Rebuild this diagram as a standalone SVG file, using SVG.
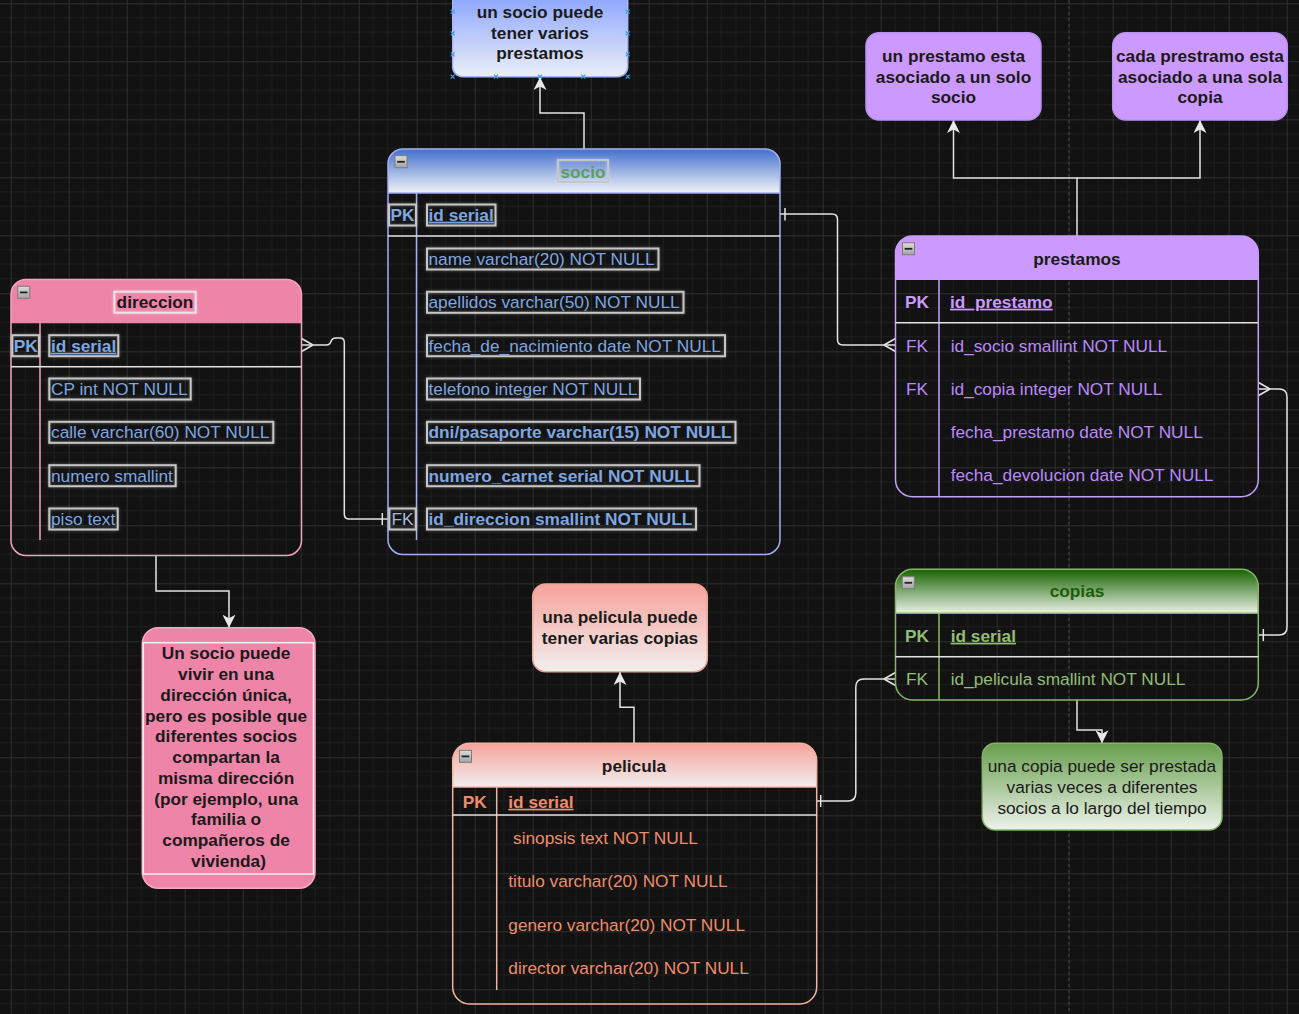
<svg xmlns="http://www.w3.org/2000/svg" width="1299" height="1014" viewBox="0 0 1299 1014">
<defs>
<style>
.t{font-family:'Liberation Sans',Arial,sans-serif;font-size:17.28px}
.b{font-weight:bold}
.u{text-decoration:underline}
.m{text-anchor:middle}
.lb{fill:none;stroke:#c6c6c6;stroke-width:2;filter:url(#glow)}
.conn{fill:none;stroke:#e4e4e4;stroke-width:1.5}
.sep{stroke:#e2e2e2;stroke-width:1.5}
.blue{fill:#7ea6e0}
.purp{fill:#b98af8}
.grn{fill:#92bd76}
.sal{fill:#ef8c6c}
.h{fill:#2196f3;font-size:0}
</style>
<pattern id="grid" x="10.7" y="3.3" width="58" height="58" patternUnits="userSpaceOnUse">
<path d="M14.5,0V58M29,0V58M43.5,0V58M0,14.5H58M0,29H58M0,43.5H58" stroke="#1f1f1f" stroke-width="1" fill="none"/>
<path d="M0.5,0V58M0,0.5H58" stroke="#2e2e2e" stroke-width="1" fill="none"/>
</pattern>
<filter id="glow" x="-20%" y="-40%" width="140%" height="180%">
<feDropShadow dx="0" dy="0" stdDeviation="1.6" flood-color="#ffffff" flood-opacity="0.35"/>
</filter>
<linearGradient id="gBlue" x1="0" y1="0" x2="0" y2="1"><stop offset="0" stop-color="#4270cc"/><stop offset="1" stop-color="#f2f3f9"/></linearGradient>
<linearGradient id="gNote1" x1="0" y1="0" x2="0" y2="1"><stop offset="0" stop-color="#85a0ff"/><stop offset="1" stop-color="#eceef7"/></linearGradient>
<linearGradient id="gSal" x1="0" y1="0" x2="0" y2="1"><stop offset="0" stop-color="#f6a39b"/><stop offset="1" stop-color="#f1eeee"/></linearGradient>
<linearGradient id="gGrn" x1="0" y1="0" x2="0" y2="1"><stop offset="0" stop-color="#176400"/><stop offset="1" stop-color="#eaf0e6"/></linearGradient>
<linearGradient id="gGrn2" x1="0" y1="0" x2="0" y2="1"><stop offset="0" stop-color="#679e4c"/><stop offset="1" stop-color="#eef2ec"/></linearGradient>
<linearGradient id="gIco" x1="0" y1="0" x2="0" y2="1"><stop offset="0" stop-color="#dcdcdc"/><stop offset="1" stop-color="#a4a4a4"/></linearGradient>
<g id="ico"><rect x="0" y="0" width="12" height="12" fill="url(#gIco)" stroke="#7c7c7c" stroke-width="1"/><rect x="2.2" y="5.2" width="7.6" height="1.8" fill="#222"/></g>
<marker id="arr" viewBox="0 0 13 13" refX="13" refY="6.5" markerWidth="13" markerHeight="13" markerUnits="userSpaceOnUse" orient="auto">
<path d="M0,0 L13,6.5 L0,13 L3.5,6.5 Z" fill="#e8e8e8"/>
</marker>
</defs>
<rect width="1299" height="1014" fill="#121212"/>
<rect width="1299" height="1014" fill="url(#grid)"/>
<line x1="1069" y1="0" x2="1069" y2="1014" stroke="#4a4a4a" stroke-width="1" stroke-dasharray="3 3"/>

<g id="connectors">
<path class="conn" d="M584,149 V113 H540 V77" marker-end="url(#arr)"/>
<path class="conn" d="M301,345 H326 Q330,345 331,341.5 Q332,338 336,338 H340 Q344.3,338 344.3,342.5 V514 Q344.3,519 349.3,519 H388"/>
<path class="conn" d="M301.5,338.5 L313,345 M301.5,351.5 L313,345"/>
<path class="conn" d="M382.3,513 V525"/>
<path class="conn" d="M780,214 H832 Q837.5,214 837.5,219.5 V339.5 Q837.5,345 843,345 H896"/>
<path class="conn" d="M785,208 V220.5"/>
<path class="conn" d="M895.5,338.5 L884,345 M895.5,351.5 L884,345"/>
<path class="conn" d="M1077,236 V178 H953.5 V120" marker-end="url(#arr)"/>
<path class="conn" d="M1077,178 H1200 V120" marker-end="url(#arr)"/>
<path class="conn" d="M1258.5,389 H1279 Q1287,389 1287,397 V627 Q1287,635 1279,635 H1258.5"/>
<path class="conn" d="M1258.5,382.5 L1270,389 M1258.5,395.5 L1270,389"/>
<path class="conn" d="M1263.3,629 V641"/>
<path class="conn" d="M1077,700 V730 H1102 V743.3" marker-end="url(#arr)"/>
<path class="conn" d="M816.7,801 H848 Q855.8,801 855.8,793 V687 Q855.8,679 863.8,679 H895.5"/>
<path class="conn" d="M820.7,795 V807"/>
<path class="conn" d="M895.5,672.5 L884,679 M895.5,685.5 L884,679"/>
<path class="conn" d="M634,743.3 V707.3 H620 V672" marker-end="url(#arr)"/>
<path class="conn" d="M156,555.5 V591 H229 V627.7" marker-end="url(#arr)"/>
</g>

<g id="note-socio-prestamos">
<rect x="452.7" y="-10" width="175" height="86.7" rx="10" fill="url(#gNote1)" stroke="#a7b5ff" stroke-width="1.5"/>
<text class="t b m" x="540" y="17.7" fill="#1a1a1a">un socio puede</text>
<text class="t b m" x="540" y="38.5" fill="#1a1a1a">tener varios</text>
<text class="t b m" x="540" y="59.3" fill="#1a1a1a">prestamos</text>
<path d="M450.7,9.7l4,4m0,-4l-4,4M450.7,31.3l4,4m0,-4l-4,4M450.7,52.3l4,4m0,-4l-4,4M450.7,74.7l4,4m0,-4l-4,4M625.7,9.7l4,4m0,-4l-4,4M625.7,31.3l4,4m0,-4l-4,4M625.7,52.3l4,4m0,-4l-4,4M625.7,74.7l4,4m0,-4l-4,4M494,74.7l4,4m0,-4l-4,4M538,74.7l4,4m0,-4l-4,4M581.3,74.7l4,4m0,-4l-4,4" stroke="#3aa0e8" stroke-width="1.2" fill="none"/>
</g>

<g id="socio">
<path d="M388,193 V164 A15,15 0 0 1 403,149 H765 A15,15 0 0 1 780,164 V193 Z" fill="url(#gBlue)"/>
<rect x="388" y="149" width="392" height="405.5" rx="15" fill="none" stroke="#a3aef2" stroke-width="1.5"/>
<line x1="388" y1="193" x2="780" y2="193" stroke="#a3aef2" stroke-width="1.5"/>
<line x1="416.5" y1="193" x2="416.5" y2="540" stroke="#a3aef2" stroke-width="1.5"/>
<line class="sep" x1="388" y1="236" x2="780" y2="236"/>
<use href="#ico" x="395" y="155.7"/>
<rect class="lb" x="558" y="160" width="50" height="22"/>
<text class="t b m" x="583" y="177.7" fill="#5c9e5c">socio</text>
<rect class="lb" x="389" y="204.5" width="27" height="21"/>
<text class="t b m blue" x="402.5" y="220.7">PK</text>
<rect class="lb" x="427" y="204.5" width="68.5" height="21"/>
<text class="t b u blue" x="428.5" y="220.7">id serial</text>
<rect class="lb" x="427" y="248.5" width="231.5" height="21"/>
<text class="t blue" x="428.5" y="265">name varchar(20) NOT NULL</text>
<rect class="lb" x="427" y="291.8" width="256.5" height="21"/>
<text class="t blue" x="428.5" y="308.3">apellidos varchar(50) NOT NULL</text>
<rect class="lb" x="427" y="335.2" width="298" height="21"/>
<text class="t blue" x="428.5" y="351.7">fecha_de_nacimiento date NOT NULL</text>
<rect class="lb" x="427" y="378.5" width="213" height="21"/>
<text class="t blue" x="428.5" y="395">telefono integer NOT NULL</text>
<rect class="lb" x="427" y="421.8" width="308.5" height="21"/>
<text class="t b blue" x="428.5" y="438.3">dni/pasaporte varchar(15) NOT NULL</text>
<rect class="lb" x="427" y="465.2" width="272.5" height="21"/>
<text class="t b blue" x="428.5" y="481.7">numero_carnet serial NOT NULL</text>
<rect class="lb" x="427" y="508.5" width="269" height="21"/>
<text class="t b blue" x="428.5" y="525">id_direccion smallint NOT NULL</text>
<rect class="lb" x="389.3" y="508.5" width="26.5" height="21"/>
<text class="t m" x="402.5" y="525" fill="#a9b8d8">FK</text>
</g>

<g id="direccion">
<path d="M11,323.3 V294.5 A15,15 0 0 1 26,279.5 H286.5 A15,15 0 0 1 301.5,294.5 V323.3 Z" fill="#ef84a9"/>
<rect x="11" y="279.5" width="290.5" height="276" rx="15" fill="none" stroke="#f3a3bd" stroke-width="1.5"/>
<line x1="40" y1="323.3" x2="40" y2="540" stroke="#f3a3bd" stroke-width="1.5"/>
<line class="sep" x1="11" y1="366.7" x2="301.5" y2="366.7"/>
<use href="#ico" x="17.7" y="286.3"/>
<rect class="lb" x="114.3" y="291.7" width="81.4" height="21" style="stroke:#e6e6e6"/>
<text class="t b m" x="155" y="307.7" fill="#1a1a1a">direccion</text>
<rect class="lb" x="12.3" y="335.2" width="26.7" height="21"/>
<text class="t b m blue" x="25.7" y="351.7">PK</text>
<rect class="lb" x="49.3" y="335.2" width="69" height="21"/>
<text class="t b u blue" x="51" y="351.7">id serial</text>
<rect class="lb" x="49.3" y="378.5" width="141.4" height="21"/>
<text class="t blue" x="51" y="395">CP int NOT NULL</text>
<rect class="lb" x="49.3" y="421.8" width="224" height="21"/>
<text class="t blue" x="51" y="438.3">calle varchar(60) NOT NULL</text>
<rect class="lb" x="49.3" y="465.2" width="126.4" height="21"/>
<text class="t blue" x="51" y="481.7">numero smallint</text>
<rect class="lb" x="49.3" y="508.5" width="68.4" height="21"/>
<text class="t blue" x="51" y="525">piso text</text>
</g>

<g id="note-direccion">
<rect x="142.3" y="627.7" width="172.7" height="260.6" rx="16" fill="#ef84a9" stroke="#f5aac2" stroke-width="1.5"/>
<rect x="143.3" y="642.7" width="170.2" height="231.3" fill="none" stroke="#f6f0f2" stroke-width="1.5"/>
<text class="t b m" fill="#1a1a1a">
<tspan x="228.5" y="659.3">Un socio puede</tspan>
<tspan x="228.5" y="680">vivir en una</tspan>
<tspan x="228.5" y="700.8">dirección única,</tspan>
<tspan x="228.5" y="721.5">pero es posible que</tspan>
<tspan x="228.5" y="742.3">diferentes socios</tspan>
<tspan x="228.5" y="763">compartan la</tspan>
<tspan x="228.5" y="783.7">misma dirección</tspan>
<tspan x="228.5" y="804.5">(por ejemplo, una</tspan>
<tspan x="228.5" y="825.2">familia o</tspan>
<tspan x="228.5" y="846">compañeros de</tspan>
<tspan x="228.5" y="866.7">vivienda)</tspan>
</text>
</g>

<g id="note-prestamo-socio">
<rect x="866" y="32.7" width="175" height="87.3" rx="13" fill="#cc99ff" stroke="#b892f2" stroke-width="1.5"/>
<text class="t b m" x="953.5" y="62.3" fill="#1a1a1a">un prestamo esta</text>
<text class="t b m" x="953.5" y="82.8" fill="#1a1a1a">asociado a un solo</text>
<text class="t b m" x="953.5" y="103.3" fill="#1a1a1a">socio</text>
</g>

<g id="note-prestamo-copia">
<rect x="1112.7" y="32.7" width="174.6" height="87.3" rx="13" fill="#cc99ff" stroke="#b892f2" stroke-width="1.5"/>
<text class="t b m" x="1200" y="62.3" fill="#1a1a1a">cada prestramo esta</text>
<text class="t b m" x="1200" y="82.8" fill="#1a1a1a">asociado a una sola</text>
<text class="t b m" x="1200" y="103.3" fill="#1a1a1a">copia</text>
</g>

<g id="prestamos">
<path d="M895.5,280 V253 A17,17 0 0 1 912.5,236 H1241.3 A17,17 0 0 1 1258.3,253 V280 Z" fill="#cc99ff"/>
<rect x="895.5" y="236" width="362.8" height="260.7" rx="17" fill="none" stroke="#c19ffa" stroke-width="1.5"/>
<line x1="939" y1="280" x2="939" y2="496.7" stroke="#c19ffa" stroke-width="1.5"/>
<line class="sep" x1="895.5" y1="322.7" x2="1258.3" y2="322.7"/>
<use href="#ico" x="902.5" y="242.7"/>
<text class="t b m" x="1077" y="265" fill="#1a1a1a">prestamos</text>
<text class="t b m" x="917" y="307.7" fill="#cc99ff">PK</text>
<text class="t b u" x="950" y="307.7" fill="#cc99ff">id_prestamo</text>
<text class="t m purp" x="917" y="351.7">FK</text>
<text class="t purp" x="950.7" y="351.7">id_socio smallint NOT NULL</text>
<text class="t m purp" x="917" y="394.8">FK</text>
<text class="t purp" x="950.7" y="394.8">id_copia integer NOT NULL</text>
<text class="t purp" x="950.7" y="438.3">fecha_prestamo date NOT NULL</text>
<text class="t purp" x="950.7" y="481.3">fecha_devolucion date NOT NULL</text>
</g>

<g id="copias">
<path d="M895.5,613.3 V586.3 A17,17 0 0 1 912.5,569.3 H1241.3 A17,17 0 0 1 1258.3,586.3 V613.3 Z" fill="url(#gGrn)"/>
<rect x="895.5" y="569.3" width="362.8" height="130.7" rx="17" fill="none" stroke="#85b468" stroke-width="1.5"/>
<line x1="895.5" y1="613.3" x2="1258.3" y2="613.3" stroke="#85b468" stroke-width="1.5"/>
<line x1="939" y1="613.3" x2="939" y2="700" stroke="#85b468" stroke-width="1.5"/>
<line class="sep" x1="895.5" y1="656.7" x2="1258.3" y2="656.7"/>
<use href="#ico" x="902.3" y="576.7"/>
<text class="t b m" x="1077" y="597.3" fill="#1e5c08">copias</text>
<text class="t b m grn" x="917" y="641.7">PK</text>
<text class="t b u grn" x="950.7" y="641.7">id serial</text>
<text class="t m grn" x="917" y="685">FK</text>
<text class="t grn" x="950.7" y="685">id_pelicula smallint NOT NULL</text>
</g>

<g id="note-copia">
<rect x="982.3" y="743.3" width="239.7" height="86.7" rx="13" fill="url(#gGrn2)" stroke="#82b366" stroke-width="1.5"/>
<text class="t m" x="1102" y="772.3" fill="#1a1a1a">una copia puede ser prestada</text>
<text class="t m" x="1102" y="793.2" fill="#1a1a1a">varias veces a diferentes</text>
<text class="t m" x="1102" y="814" fill="#1a1a1a">socios a lo largo del tiempo</text>
</g>

<g id="note-pelicula">
<rect x="532.7" y="584" width="174.6" height="87.7" rx="13" fill="url(#gSal)" stroke="#eaa596" stroke-width="1.5"/>
<text class="t b m" x="620" y="622.7" fill="#1a1a1a">una pelicula puede</text>
<text class="t b m" x="620" y="644" fill="#1a1a1a">tener varias copias</text>
</g>

<g id="pelicula">
<path d="M452.7,787 V760.3 A17,17 0 0 1 469.7,743.3 H799.7 A17,17 0 0 1 816.7,760.3 V787 Z" fill="url(#gSal)"/>
<rect x="452.7" y="743.3" width="364" height="260.7" rx="17" fill="none" stroke="#f0b4a2" stroke-width="1.5"/>
<line x1="452.7" y1="787" x2="816.7" y2="787" stroke="#f0b4a2" stroke-width="1.5"/>
<line x1="496.7" y1="787" x2="496.7" y2="990" stroke="#f0b4a2" stroke-width="1.5"/>
<line class="sep" x1="452.7" y1="815" x2="816.7" y2="815"/>
<use href="#ico" x="459.5" y="750.3"/>
<text class="t b m" x="634" y="771.7" fill="#1a1a1a">pelicula</text>
<text class="t b m sal" x="474.7" y="807.7">PK</text>
<text class="t b u sal" x="508.3" y="807.7">id serial</text>
<text class="t sal" x="513" y="844.3">sinopsis text NOT NULL</text>
<text class="t sal" x="508.3" y="887.3">titulo varchar(20) NOT NULL</text>
<text class="t sal" x="508.3" y="930.7">genero varchar(20) NOT NULL</text>
<text class="t sal" x="508.3" y="974">director varchar(20) NOT NULL</text>
</g>
</svg>
